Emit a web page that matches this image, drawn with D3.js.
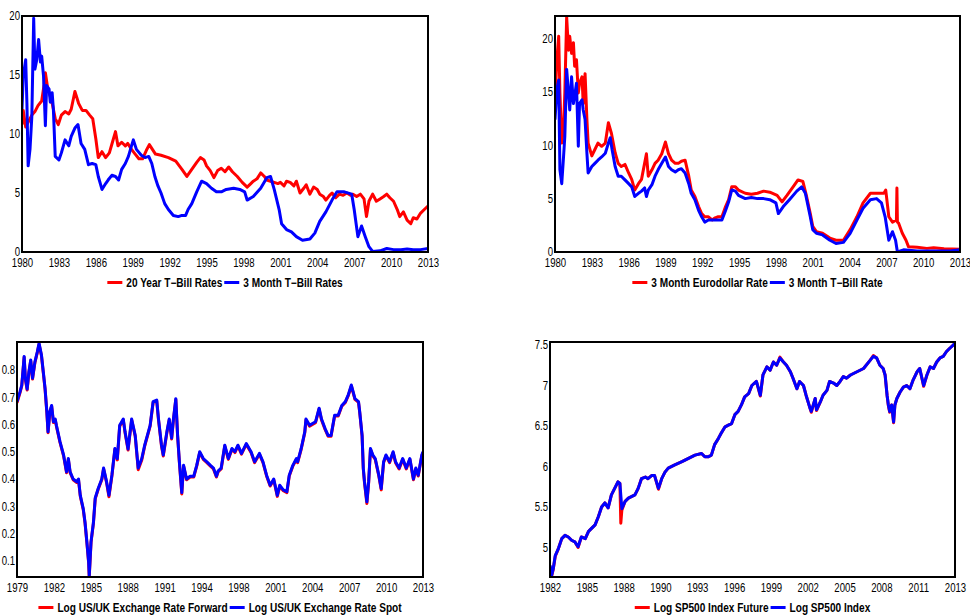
<!DOCTYPE html>
<html>
<head>
<meta charset="utf-8">
<script src="https://cdn.jsdelivr.net/npm/d3@7/dist/d3.min.js"></script>
<style>
  body { margin: 0; background: #fff; }
  svg { display: block; font-family: 'Liberation Sans', Arial, sans-serif; }
</style>
</head>
<body>
<div id="chart"></div>
<script>
// tick labels (placed evenly along each x axis, as in the original)
const yearLabelsRates = ['1980', '1983', '1986', '1989', '1992', '1995', '1998', '2001', '2004', '2007', '2010', '2013'];
const yearLabelsFx = ['1979', '1982', '1985', '1988', '1991', '1994', '1998', '2001', '2004', '2007', '2010', '2013'];
const yearLabelsSp = ['1982', '1985', '1988', '1990', '1993', '1996', '1999', '2002', '2005', '2008', '2011', '2013'];
const ticksRates = [0, 5, 10, 15, 20];
const ticksFx = [0.1, 0.2, 0.3, 0.4, 0.5, 0.6, 0.7, 0.8];
const ticksSp = [5, 5.5, 6, 6.5, 7, 7.5];

// legend names
const namesRates = ['20 Year T\u2212Bill Rates', '3 Month T\u2212Bill Rates'];
const namesEuro = ['3 Month Eurodollar Rate', '3 Month T\u2212Bill Rate'];
const namesFx = ['Log US/UK Exchange Rate Forward', 'Log US/UK Exchange Rate Spot'];
const namesSp = ['Log SP500 Index Future', 'Log SP500 Index'];

// series: [year, value]
const rate20y = [
  [1980.0, 10.8], [1980.1, 12.0], [1980.3, 10.6], [1980.5, 11.0], [1980.8, 11.6], [1981.05, 11.9],
  [1981.3, 12.4], [1981.6, 12.8], [1981.8, 14.2], [1981.9, 15.2], [1982.1, 13.8], [1982.4, 12.9],
  [1982.7, 11.3], [1982.95, 10.8], [1983.2, 11.6], [1983.5, 11.9], [1983.8, 11.7], [1984.0, 12.1],
  [1984.3, 13.6], [1984.6, 12.6], [1984.9, 12.0], [1985.2, 12.0], [1985.5, 11.6], [1985.75, 11.3],
  [1986.0, 9.6], [1986.2, 8.0], [1986.5, 8.5], [1986.8, 8.0], [1987.1, 8.4], [1987.35, 9.3],
  [1987.6, 10.2], [1987.8, 9.0], [1988.1, 9.3], [1988.4, 9.0], [1988.6, 9.2], [1988.9, 8.7],
  [1989.2, 8.3], [1989.5, 7.9], [1989.8, 7.9], [1990.1, 8.6], [1990.35, 9.1], [1990.6, 8.7],
  [1990.85, 8.3], [1991.3, 8.2], [1991.9, 8.0], [1992.5, 7.7], [1993.0, 7.0], [1993.4, 6.4],
  [1993.8, 7.0], [1994.2, 7.6], [1994.5, 8.0], [1994.8, 7.8], [1995.0, 7.3], [1995.3, 6.9],
  [1995.6, 6.3], [1995.9, 6.9], [1996.2, 7.1], [1996.5, 6.8], [1996.8, 7.2], [1997.1, 6.8],
  [1997.5, 6.4], [1997.9, 5.9], [1998.3, 5.5], [1998.6, 5.8], [1998.8, 6.0], [1999.1, 6.2],
  [1999.4, 6.7], [1999.7, 6.4], [1999.9, 6.1], [2000.2, 6.0], [2000.5, 5.9], [2000.8, 5.8],
  [2001.0, 5.9], [2001.3, 5.6], [2001.5, 6.0], [2001.8, 5.9], [2002.1, 5.6], [2002.3, 6.0],
  [2002.6, 5.0], [2002.9, 5.4], [2003.1, 5.7], [2003.4, 4.9], [2003.7, 5.5], [2004.0, 5.3],
  [2004.2, 4.9], [2004.5, 4.7], [2004.7, 4.4], [2005.0, 4.8], [2005.2, 5.0], [2005.5, 4.6],
  [2005.8, 4.9], [2006.1, 4.8], [2006.4, 5.0], [2006.7, 4.8], [2006.9, 4.9], [2007.2, 4.7],
  [2007.5, 4.9], [2007.8, 4.5], [2008.0, 3.0], [2008.2, 4.3], [2008.5, 4.9], [2008.8, 4.3],
  [2009.1, 4.5], [2009.4, 4.7], [2009.65, 4.9], [2009.9, 4.6], [2010.2, 4.3], [2010.5, 3.6],
  [2010.7, 3.0], [2011.0, 3.4], [2011.3, 2.7], [2011.6, 2.4], [2011.8, 2.9], [2012.1, 2.8],
  [2012.4, 3.3], [2012.7, 3.6], [2013.0, 3.9]
];

const rate3m = [
  [1980.0, 12.1], [1980.1, 14.9], [1980.3, 16.3], [1980.4, 12.6], [1980.5, 7.3], [1980.65, 8.7],
  [1980.8, 11.5], [1980.95, 19.8], [1981.05, 15.5], [1981.2, 16.3], [1981.35, 18.0], [1981.5, 16.1],
  [1981.6, 16.6], [1981.75, 14.9], [1981.9, 10.7], [1982.0, 14.1], [1982.2, 13.8], [1982.3, 12.7],
  [1982.45, 13.5], [1982.55, 12.1], [1982.7, 8.1], [1983.0, 7.8], [1983.2, 8.4], [1983.5, 9.5],
  [1983.8, 9.0], [1984.0, 9.8], [1984.3, 10.5], [1984.55, 10.8], [1984.8, 9.2], [1985.1, 8.7],
  [1985.4, 7.4], [1985.7, 7.5], [1986.0, 7.4], [1986.2, 6.4], [1986.5, 5.3], [1986.8, 5.8],
  [1987.0, 6.1], [1987.3, 6.5], [1987.6, 6.4], [1987.85, 6.1], [1988.1, 7.0], [1988.4, 7.5],
  [1988.65, 8.1], [1988.9, 9.0], [1989.05, 9.5], [1989.3, 8.7], [1989.7, 8.2], [1990.0, 8.0],
  [1990.3, 8.1], [1990.55, 7.5], [1990.8, 6.4], [1991.05, 5.6], [1991.3, 5.0], [1991.6, 4.1],
  [1991.9, 3.6], [1992.3, 3.1], [1992.7, 3.0], [1993.0, 3.1], [1993.3, 3.1], [1993.5, 3.6],
  [1993.8, 4.1], [1994.2, 5.1], [1994.6, 6.0], [1995.0, 5.8], [1995.4, 5.4], [1995.8, 5.1],
  [1996.2, 5.1], [1996.6, 5.3], [1997.2, 5.4], [1997.7, 5.3], [1998.1, 5.1], [1998.3, 4.4],
  [1998.8, 4.7], [1999.4, 5.4], [1999.9, 6.3], [2000.2, 6.4], [2000.5, 5.3], [2000.9, 3.6],
  [2001.1, 2.4], [2001.5, 1.9], [2001.9, 1.7], [2002.3, 1.3], [2002.8, 1.0], [2003.4, 1.1],
  [2003.8, 1.6], [2004.2, 2.6], [2004.7, 3.4], [2005.2, 4.4], [2005.6, 5.1], [2006.2, 5.1],
  [2006.8, 4.9], [2007.0, 3.6], [2007.3, 1.3], [2007.6, 2.2], [2007.9, 1.3], [2008.2, 0.45],
  [2008.5, 0.05], [2009.1, 0.1], [2009.65, 0.3], [2010.2, 0.2], [2010.8, 0.2], [2011.3, 0.25],
  [2011.8, 0.2], [2012.4, 0.2], [2013.0, 0.3]
];

const euro3m = [
  [1980.0, 13.9], [1980.15, 18.0], [1980.3, 20.2], [1980.4, 14.9], [1980.55, 10.2], [1980.7, 11.8],
  [1980.8, 14.9], [1980.95, 22.0], [1981.1, 18.9], [1981.2, 20.2], [1981.35, 18.6], [1981.5, 19.6],
  [1981.6, 17.4], [1981.75, 18.0], [1981.9, 14.9], [1982.0, 15.8], [1982.2, 16.4], [1982.3, 13.9],
  [1982.45, 16.7], [1982.6, 12.4], [1982.7, 10.2], [1983.0, 9.0], [1983.25, 9.6], [1983.5, 10.2],
  [1983.8, 9.9], [1984.1, 10.2], [1984.35, 12.1], [1984.6, 11.1], [1984.9, 9.3], [1985.15, 8.3],
  [1985.4, 8.0], [1985.7, 8.2], [1986.0, 7.4], [1986.25, 6.8], [1986.5, 5.8], [1986.8, 6.4],
  [1987.05, 6.8], [1987.3, 8.3], [1987.45, 9.2], [1987.6, 7.1], [1987.9, 7.7], [1988.15, 8.3],
  [1988.4, 8.6], [1988.7, 9.2], [1989.0, 10.3], [1989.25, 9.2], [1989.5, 8.6], [1989.8, 8.3],
  [1990.05, 8.3], [1990.3, 8.5], [1990.6, 8.6], [1990.9, 7.1], [1991.1, 5.8], [1991.4, 5.2],
  [1991.7, 4.25], [1991.95, 3.6], [1992.2, 3.3], [1992.5, 3.3], [1992.8, 3.0], [1993.05, 3.2],
  [1993.3, 3.3], [1993.6, 3.3], [1993.9, 4.25], [1994.15, 4.9], [1994.4, 6.1], [1994.7, 6.1],
  [1994.95, 5.8], [1995.5, 5.5], [1996.0, 5.4], [1996.5, 5.5], [1997.0, 5.7], [1997.5, 5.6],
  [1998.1, 5.3], [1998.5, 4.7], [1998.9, 5.3], [1999.4, 6.1], [1999.8, 6.75], [2000.2, 6.6],
  [2000.5, 5.2], [2000.8, 3.6], [2001.0, 2.4], [2001.3, 1.9], [2001.8, 1.75], [2002.4, 1.3],
  [2002.9, 1.1], [2003.5, 1.1], [2004.05, 2.1], [2004.6, 3.3], [2005.1, 4.6], [2005.7, 5.5],
  [2006.2, 5.5], [2006.8, 5.5], [2006.95, 5.8], [2007.2, 3.3], [2007.5, 2.8], [2007.82, 3.0],
  [2007.86, 6.0], [2007.9, 2.8], [2008.0, 2.7], [2008.3, 1.75], [2008.6, 1.1], [2008.8, 0.5],
  [2009.5, 0.44], [2010.3, 0.34], [2010.85, 0.4], [2011.7, 0.3], [2012.4, 0.28], [2013.0, 0.25]
];

const tbill3m = [
  [1980.0, 12.4], [1980.15, 15.2], [1980.3, 16.1], [1980.4, 7.7], [1980.55, 6.4], [1980.7, 9.0],
  [1980.8, 10.8], [1980.95, 17.1], [1981.1, 14.9], [1981.2, 13.3], [1981.35, 16.4], [1981.5, 13.9],
  [1981.6, 14.6], [1981.75, 15.8], [1981.9, 9.9], [1982.0, 13.9], [1982.2, 14.25], [1982.3, 13.3],
  [1982.45, 12.4], [1982.6, 9.25], [1982.7, 7.4], [1983.0, 8.0], [1983.25, 8.3], [1983.5, 8.6],
  [1983.8, 8.9], [1984.1, 9.25], [1984.35, 10.2], [1984.5, 10.7], [1984.65, 9.6], [1984.9, 8.0],
  [1985.15, 7.1], [1985.4, 7.1], [1985.7, 6.75], [1986.0, 6.4], [1986.25, 6.1], [1986.5, 5.2],
  [1986.8, 5.5], [1987.05, 5.7], [1987.3, 6.0], [1987.45, 5.2], [1987.6, 5.8], [1987.9, 6.3],
  [1988.15, 7.1], [1988.4, 7.7], [1988.7, 8.3], [1989.0, 8.9], [1989.25, 8.0], [1989.5, 7.7],
  [1989.8, 7.5], [1990.05, 7.7], [1990.3, 7.8], [1990.6, 7.4], [1990.9, 6.4], [1991.1, 5.5],
  [1991.4, 4.9], [1991.7, 3.9], [1991.95, 3.3], [1992.2, 2.8], [1992.5, 3.0], [1993.0, 3.0],
  [1993.6, 3.0], [1993.9, 3.9], [1994.15, 4.7], [1994.4, 5.8], [1994.7, 5.7], [1994.95, 5.3],
  [1995.5, 5.0], [1996.0, 5.1], [1996.5, 5.0], [1997.0, 5.0], [1997.5, 4.9], [1998.0, 4.6],
  [1998.2, 3.6], [1998.6, 4.25], [1999.1, 4.9], [1999.7, 5.7], [2000.1, 6.1], [2000.4, 5.5],
  [2000.8, 3.3], [2001.0, 2.1], [2001.3, 1.75], [2001.8, 1.6], [2002.4, 1.1], [2002.9, 0.8],
  [2003.5, 0.9], [2004.05, 1.75], [2004.6, 3.0], [2005.1, 4.1], [2005.7, 4.9], [2006.2, 5.0],
  [2006.6, 4.6], [2006.9, 3.3], [2007.2, 1.1], [2007.5, 1.9], [2007.75, 1.1], [2007.9, 0.0],
  [2008.4, 0.2], [2009.5, 0.1], [2010.8, 0.1], [2012.2, 0.1], [2013.0, 0.2]
];

const ukSpot = [
  [1979.0, 0.684], [1979.25, 0.72], [1979.4, 0.745], [1979.6, 0.85], [1979.7, 0.77], [1979.85, 0.73],
  [1980.0, 0.795], [1980.15, 0.837], [1980.3, 0.77], [1980.5, 0.83], [1980.7, 0.867], [1980.85, 0.898],
  [1981.05, 0.855], [1981.2, 0.794], [1981.35, 0.733], [1981.5, 0.647], [1981.6, 0.573], [1981.75, 0.647],
  [1981.9, 0.67], [1982.05, 0.61], [1982.2, 0.62], [1982.3, 0.597], [1982.6, 0.537], [1982.9, 0.488],
  [1983.15, 0.426], [1983.3, 0.475], [1983.45, 0.426], [1983.7, 0.40], [1984.0, 0.39], [1984.15, 0.40],
  [1984.3, 0.34], [1984.55, 0.29], [1984.7, 0.24], [1984.85, 0.17], [1985.0, 0.095], [1985.05, 0.045],
  [1985.2, 0.17], [1985.4, 0.24], [1985.55, 0.33], [1985.8, 0.365], [1986.1, 0.40], [1986.25, 0.44],
  [1986.5, 0.39], [1986.7, 0.34], [1986.95, 0.415], [1987.2, 0.512], [1987.4, 0.475], [1987.6, 0.597],
  [1987.9, 0.62], [1988.05, 0.573], [1988.3, 0.51], [1988.6, 0.62], [1988.9, 0.56], [1989.15, 0.44],
  [1989.45, 0.475], [1989.7, 0.525], [1990.15, 0.597], [1990.4, 0.684], [1990.7, 0.69], [1990.85, 0.62],
  [1991.1, 0.525], [1991.25, 0.488], [1991.55, 0.573], [1991.75, 0.62], [1991.95, 0.55], [1992.1, 0.62],
  [1992.3, 0.695], [1992.45, 0.56], [1992.6, 0.463], [1992.8, 0.35], [1992.95, 0.45], [1993.2, 0.40],
  [1993.5, 0.41], [1993.8, 0.41], [1994.05, 0.45], [1994.3, 0.50], [1994.6, 0.475], [1994.9, 0.463],
  [1995.2, 0.45], [1995.45, 0.44], [1995.7, 0.41], [1995.85, 0.43], [1996.1, 0.44], [1996.4, 0.524],
  [1996.7, 0.475], [1997.0, 0.512], [1997.25, 0.50], [1997.5, 0.524], [1997.8, 0.494], [1998.2, 0.53],
  [1998.6, 0.50], [1998.9, 0.463], [1999.3, 0.494], [1999.6, 0.463], [1999.9, 0.414], [2000.2, 0.377],
  [2000.5, 0.40], [2000.8, 0.34], [2001.0, 0.377], [2001.3, 0.36], [2001.6, 0.353], [2001.8, 0.414],
  [2002.1, 0.45], [2002.4, 0.475], [2002.5, 0.463], [2002.8, 0.512], [2003.1, 0.573], [2003.2, 0.62],
  [2003.5, 0.597], [2004.0, 0.61], [2004.3, 0.66], [2004.5, 0.62], [2004.8, 0.585], [2005.05, 0.56],
  [2005.3, 0.56], [2005.6, 0.634], [2005.9, 0.634], [2006.2, 0.67], [2006.5, 0.684], [2006.75, 0.71],
  [2007.0, 0.745], [2007.3, 0.695], [2007.6, 0.684], [2007.7, 0.647], [2007.9, 0.56], [2008.0, 0.44],
  [2008.1, 0.39], [2008.3, 0.316], [2008.45, 0.39], [2008.6, 0.512], [2008.8, 0.488], [2009.0, 0.475],
  [2009.3, 0.414], [2009.5, 0.365], [2009.7, 0.463], [2009.9, 0.488], [2010.2, 0.463], [2010.5, 0.50],
  [2010.7, 0.463], [2011.0, 0.44], [2011.3, 0.475], [2011.6, 0.44], [2011.9, 0.475], [2012.2, 0.40],
  [2012.4, 0.44], [2012.6, 0.414], [2012.9, 0.488], [2013.0, 0.50]
];

const ukFwd = [
  [1979.0, 0.68], [1979.25, 0.716], [1979.4, 0.742], [1979.6, 0.847], [1979.7, 0.766], [1979.85, 0.727],
  [1980.0, 0.792], [1980.15, 0.834], [1980.3, 0.767], [1980.5, 0.827], [1980.7, 0.864], [1980.85, 0.895],
  [1981.05, 0.852], [1981.2, 0.791], [1981.35, 0.73], [1981.5, 0.644], [1981.6, 0.57], [1981.75, 0.644],
  [1981.9, 0.667], [1982.05, 0.607], [1982.2, 0.617], [1982.3, 0.594], [1982.6, 0.534], [1982.9, 0.485],
  [1983.15, 0.423], [1983.3, 0.472], [1983.45, 0.423], [1983.7, 0.397], [1984.0, 0.387], [1984.15, 0.397],
  [1984.3, 0.337], [1984.55, 0.287], [1984.7, 0.237], [1984.85, 0.167], [1985.0, 0.092], [1985.05, 0.04],
  [1985.2, 0.167], [1985.4, 0.237], [1985.55, 0.327], [1985.8, 0.362], [1986.1, 0.397], [1986.25, 0.437],
  [1986.5, 0.387], [1986.7, 0.335], [1986.95, 0.412], [1987.2, 0.509], [1987.4, 0.47], [1987.6, 0.594],
  [1987.9, 0.617], [1988.05, 0.57], [1988.3, 0.506], [1988.6, 0.617], [1988.9, 0.557], [1989.15, 0.434],
  [1989.45, 0.47], [1989.7, 0.522], [1990.15, 0.594], [1990.4, 0.681], [1990.7, 0.687], [1990.85, 0.617],
  [1991.1, 0.521], [1991.25, 0.484], [1991.55, 0.57], [1991.75, 0.617], [1991.95, 0.547], [1992.1, 0.617],
  [1992.3, 0.692], [1992.45, 0.557], [1992.6, 0.46], [1992.8, 0.345], [1992.95, 0.447], [1993.2, 0.397],
  [1993.5, 0.407], [1993.8, 0.407], [1994.05, 0.447], [1994.3, 0.497], [1994.6, 0.472], [1994.9, 0.46],
  [1995.2, 0.447], [1995.45, 0.437], [1995.7, 0.407], [1995.85, 0.427], [1996.1, 0.437], [1996.4, 0.521],
  [1996.7, 0.472], [1997.0, 0.509], [1997.25, 0.497], [1997.5, 0.521], [1997.8, 0.491], [1998.2, 0.527],
  [1998.6, 0.497], [1998.9, 0.46], [1999.3, 0.491], [1999.6, 0.46], [1999.9, 0.411], [2000.2, 0.374],
  [2000.5, 0.397], [2000.8, 0.336], [2001.0, 0.372], [2001.3, 0.357], [2001.6, 0.35], [2001.8, 0.411],
  [2002.1, 0.447], [2002.4, 0.472], [2002.5, 0.46], [2002.8, 0.509], [2003.1, 0.57], [2003.2, 0.617],
  [2003.5, 0.594], [2004.0, 0.607], [2004.3, 0.657], [2004.5, 0.617], [2004.8, 0.582], [2005.05, 0.557],
  [2005.3, 0.557], [2005.6, 0.631], [2005.9, 0.631], [2006.2, 0.667], [2006.5, 0.681], [2006.75, 0.707],
  [2007.0, 0.742], [2007.3, 0.692], [2007.6, 0.681], [2007.7, 0.644], [2007.9, 0.557], [2008.0, 0.437],
  [2008.1, 0.387], [2008.3, 0.31], [2008.45, 0.387], [2008.6, 0.509], [2008.8, 0.485], [2009.0, 0.472],
  [2009.3, 0.411], [2009.5, 0.36], [2009.7, 0.46], [2009.9, 0.485], [2010.2, 0.46], [2010.5, 0.497],
  [2010.7, 0.46], [2011.0, 0.437], [2011.3, 0.472], [2011.6, 0.437], [2011.9, 0.472], [2012.2, 0.397],
  [2012.4, 0.437], [2012.6, 0.411], [2012.9, 0.485], [2013.0, 0.497]
];

const spIndex = [
  [1982.0, 4.78], [1982.13, 4.66], [1982.25, 4.74], [1982.4, 4.9], [1982.65, 4.99], [1982.9, 5.11],
  [1983.15, 5.15], [1983.4, 5.13], [1983.65, 5.09], [1983.9, 5.07], [1984.15, 5.01], [1984.4, 5.13],
  [1984.7, 5.11], [1984.95, 5.2], [1985.2, 5.24], [1985.45, 5.28], [1985.7, 5.38], [1985.95, 5.5],
  [1986.2, 5.55], [1986.45, 5.49], [1986.7, 5.65], [1986.95, 5.73], [1987.2, 5.81], [1987.35, 5.79],
  [1987.5, 5.48], [1987.75, 5.57], [1988.0, 5.61], [1988.5, 5.65], [1988.75, 5.73], [1989.0, 5.85],
  [1989.3, 5.87], [1989.5, 5.85], [1989.8, 5.89], [1990.0, 5.89], [1990.3, 5.73], [1990.55, 5.85],
  [1990.8, 5.93], [1991.05, 5.98], [1991.55, 6.02], [1992.1, 6.06], [1992.6, 6.1], [1993.1, 6.14],
  [1993.6, 6.16], [1993.85, 6.12], [1994.1, 6.12], [1994.35, 6.14], [1994.6, 6.27], [1994.9, 6.35],
  [1995.1, 6.41], [1995.4, 6.49], [1995.65, 6.51], [1995.9, 6.53], [1996.15, 6.64], [1996.4, 6.68],
  [1996.65, 6.76], [1996.9, 6.86], [1997.2, 6.9], [1997.45, 7.0], [1997.8, 7.05], [1998.1, 6.88],
  [1998.3, 7.13], [1998.6, 7.23], [1998.85, 7.19], [1999.1, 7.29], [1999.35, 7.25], [1999.6, 7.34],
  [1999.87, 7.29], [2000.1, 7.25], [2000.4, 7.17], [2000.6, 7.09], [2000.9, 6.96], [2001.1, 7.05],
  [2001.4, 7.0], [2001.6, 6.88], [2001.9, 6.72], [2002.0, 6.68], [2002.3, 6.84], [2002.4, 6.7],
  [2002.7, 6.8], [2002.9, 6.88], [2003.2, 6.94], [2003.4, 7.05], [2003.7, 7.03], [2003.95, 7.0],
  [2004.2, 7.05], [2004.45, 7.11], [2004.7, 7.09], [2005.0, 7.13], [2005.5, 7.17], [2006.0, 7.21],
  [2006.5, 7.31], [2006.75, 7.36], [2007.0, 7.34], [2007.25, 7.25], [2007.5, 7.21], [2007.65, 7.13],
  [2007.8, 6.88], [2007.9, 6.76], [2008.0, 6.68], [2008.15, 6.76], [2008.3, 6.55], [2008.4, 6.76],
  [2008.55, 6.84], [2008.8, 6.92], [2009.05, 6.98], [2009.3, 7.0], [2009.55, 6.96], [2009.8, 7.07],
  [2010.1, 7.17], [2010.3, 7.21], [2010.6, 7.0], [2010.85, 7.13], [2011.1, 7.23], [2011.35, 7.21],
  [2011.6, 7.29], [2011.85, 7.34], [2012.1, 7.36], [2012.35, 7.42], [2012.6, 7.46], [2013.0, 7.52]
];

const spFuture = [
  [1982.0, 4.77], [1982.13, 4.65], [1982.25, 4.73], [1982.4, 4.89], [1982.65, 4.99], [1982.9, 5.11],
  [1983.15, 5.15], [1983.4, 5.13], [1983.65, 5.09], [1983.9, 5.07], [1984.15, 5.0], [1984.4, 5.13],
  [1984.7, 5.11], [1984.95, 5.2], [1985.2, 5.24], [1985.45, 5.28], [1985.7, 5.38], [1985.95, 5.5],
  [1986.2, 5.55], [1986.45, 5.49], [1986.7, 5.65], [1986.95, 5.73], [1987.2, 5.81], [1987.35, 5.79],
  [1987.42, 5.3], [1987.5, 5.46], [1987.75, 5.57], [1988.0, 5.61], [1988.5, 5.65], [1988.75, 5.73],
  [1989.0, 5.85], [1989.3, 5.87], [1989.5, 5.85], [1989.8, 5.89], [1990.0, 5.89], [1990.3, 5.72],
  [1990.55, 5.85], [1990.8, 5.93], [1991.05, 5.98], [1991.55, 6.02], [1992.1, 6.06], [1992.6, 6.1],
  [1993.1, 6.14], [1993.6, 6.16], [1993.85, 6.12], [1994.1, 6.12], [1994.35, 6.14], [1994.6, 6.27],
  [1994.9, 6.35], [1995.1, 6.41], [1995.4, 6.49], [1995.65, 6.51], [1995.9, 6.53], [1996.15, 6.64],
  [1996.4, 6.68], [1996.65, 6.76], [1996.9, 6.86], [1997.2, 6.9], [1997.45, 7.0], [1997.8, 7.05],
  [1998.1, 6.87], [1998.3, 7.13], [1998.6, 7.23], [1998.85, 7.19], [1999.1, 7.29], [1999.35, 7.25],
  [1999.6, 7.35], [1999.87, 7.29], [2000.1, 7.25], [2000.4, 7.17], [2000.6, 7.09], [2000.9, 6.96],
  [2001.1, 7.05], [2001.4, 7.0], [2001.6, 6.88], [2001.9, 6.72], [2002.0, 6.67], [2002.3, 6.84],
  [2002.4, 6.69], [2002.7, 6.8], [2002.9, 6.88], [2003.2, 6.94], [2003.4, 7.05], [2003.7, 7.03],
  [2003.95, 7.0], [2004.2, 7.05], [2004.45, 7.11], [2004.7, 7.09], [2005.0, 7.13], [2005.5, 7.17],
  [2006.0, 7.21], [2006.5, 7.31], [2006.75, 7.37], [2007.0, 7.34], [2007.25, 7.25], [2007.5, 7.21],
  [2007.65, 7.13], [2007.8, 6.88], [2007.9, 6.75], [2008.0, 6.67], [2008.15, 6.76], [2008.3, 6.54],
  [2008.4, 6.76], [2008.55, 6.84], [2008.8, 6.92], [2009.05, 6.98], [2009.3, 7.0], [2009.55, 6.96],
  [2009.8, 7.07], [2010.1, 7.17], [2010.3, 7.21], [2010.6, 6.99], [2010.85, 7.13], [2011.1, 7.23],
  [2011.35, 7.21], [2011.6, 7.29], [2011.85, 7.34], [2012.1, 7.36], [2012.35, 7.42], [2012.6, 7.46],
  [2013.0, 7.52]
];

const colors = ['#ff0000', '#0000ff'];

const panels = [
  { left: 22, top: 16, right: 428, bottom: 252, xDomain: [1980, 2013], xLabels: yearLabelsRates,
    yDomain: [0, 20], yTicks: ticksRates, names: namesRates, series: [rate20y, rate3m] },
  { left: 555, top: 16, right: 960, bottom: 252, xDomain: [1980, 2013], xLabels: yearLabelsRates,
    yDomain: [0, 22.1], yTicks: ticksRates, names: namesEuro, series: [euro3m, tbill3m] },
  { left: 17, top: 342, right: 423, bottom: 577, xDomain: [1979, 2013], xLabels: yearLabelsFx,
    yDomain: [0.04, 0.903], yTicks: ticksFx, names: namesFx, series: [ukFwd, ukSpot] },
  { left: 550, top: 342, right: 955, bottom: 577, xDomain: [1982, 2013], xLabels: yearLabelsSp,
    yDomain: [4.636, 7.537], yTicks: ticksSp, names: namesSp, series: [spFuture, spIndex] },
];

const width = 970;
const height = 616;

const svg = d3.select('#chart')
  .append('svg')
  .attr('width', width)
  .attr('height', height);

// squeeze text horizontally, the original uses a narrow face
function narrow(sel, k) {
  sel.each(function () {
    const w = this.getComputedTextLength();
    d3.select(this).attr('textLength', w * k).attr('lengthAdjust', 'spacingAndGlyphs');
  });
}

panels.forEach((p, i) => {
  const x = d3.scaleLinear().domain(p.xDomain).range([p.left, p.right]);
  const y = d3.scaleLinear().domain(p.yDomain).range([p.bottom, p.top]);
  const g = svg.append('g');

  // x axis: labels evenly spread over the domain
  const n = p.xLabels.length;
  const xTicks = d3.range(n).map(k => p.xDomain[0] + (k * (p.xDomain[1] - p.xDomain[0])) / (n - 1));
  const xAxis = g.append('g')
    .attr('transform', `translate(0,${p.bottom})`)
    .call(d3.axisBottom(x).tickValues(xTicks).tickSize(0).tickPadding(6)
      .tickFormat((d, k) => p.xLabels[k]));
  xAxis.select('.domain').remove();

  const yAxis = g.append('g')
    .attr('transform', `translate(${p.left},0)`)
    .call(d3.axisLeft(y).tickValues(p.yTicks).tickSize(0).tickPadding(2)
      .tickFormat(d3.format('')));
  yAxis.select('.domain').remove();

  g.selectAll('.tick text')
    .attr('font-size', 12)
    .attr('font-family', "'Liberation Sans', Arial, sans-serif")
    .attr('fill', '#000')
    .call(narrow, 0.8);

  // lines, clipped to the plot box
  const clipId = `clip${i}`;
  g.append('clipPath').attr('id', clipId)
    .append('rect')
    .attr('x', p.left).attr('y', p.top)
    .attr('width', p.right - p.left).attr('height', p.bottom - p.top);

  const line = d3.line().x(d => x(d[0])).y(d => y(d[1]));

  g.append('g')
    .attr('clip-path', `url(#${clipId})`)
    .selectAll('path')
    .data(p.series)
    .enter()
    .append('path')
    .attr('d', line)
    .attr('fill', 'none')
    .attr('stroke', (d, k) => colors[k])
    .attr('stroke-width', 3)
    .attr('stroke-linejoin', 'round');

  // frame
  g.append('rect')
    .attr('x', p.left).attr('y', p.top)
    .attr('width', p.right - p.left).attr('height', p.bottom - p.top)
    .attr('fill', 'none')
    .attr('stroke', '#000')
    .attr('stroke-width', 2);

  // legend, centred under the box
  const leg = g.append('g');
  const texts = p.names.map(name => leg.append('text')
    .attr('font-size', 12)
    .attr('font-weight', 'bold')
    .attr('y', p.bottom + 35)
    .text(name)
    .call(narrow, 0.84));
  const widths = texts.map(t => +t.attr('textLength'));
  const seg = 15;
  const total = seg + 4 + widths[0] + 2 + seg + 4 + widths[1];
  let cx = (p.left + p.right) / 2 - total / 2;
  texts.forEach((t, k) => {
    leg.append('line')
      .attr('x1', cx).attr('x2', cx + seg)
      .attr('y1', p.bottom + 30.5).attr('y2', p.bottom + 30.5)
      .attr('stroke', colors[k])
      .attr('stroke-width', 3);
    t.attr('x', cx + seg + 4);
    cx += seg + 4 + widths[k] + 2;
  });
});
</script>
</body>
</html>
